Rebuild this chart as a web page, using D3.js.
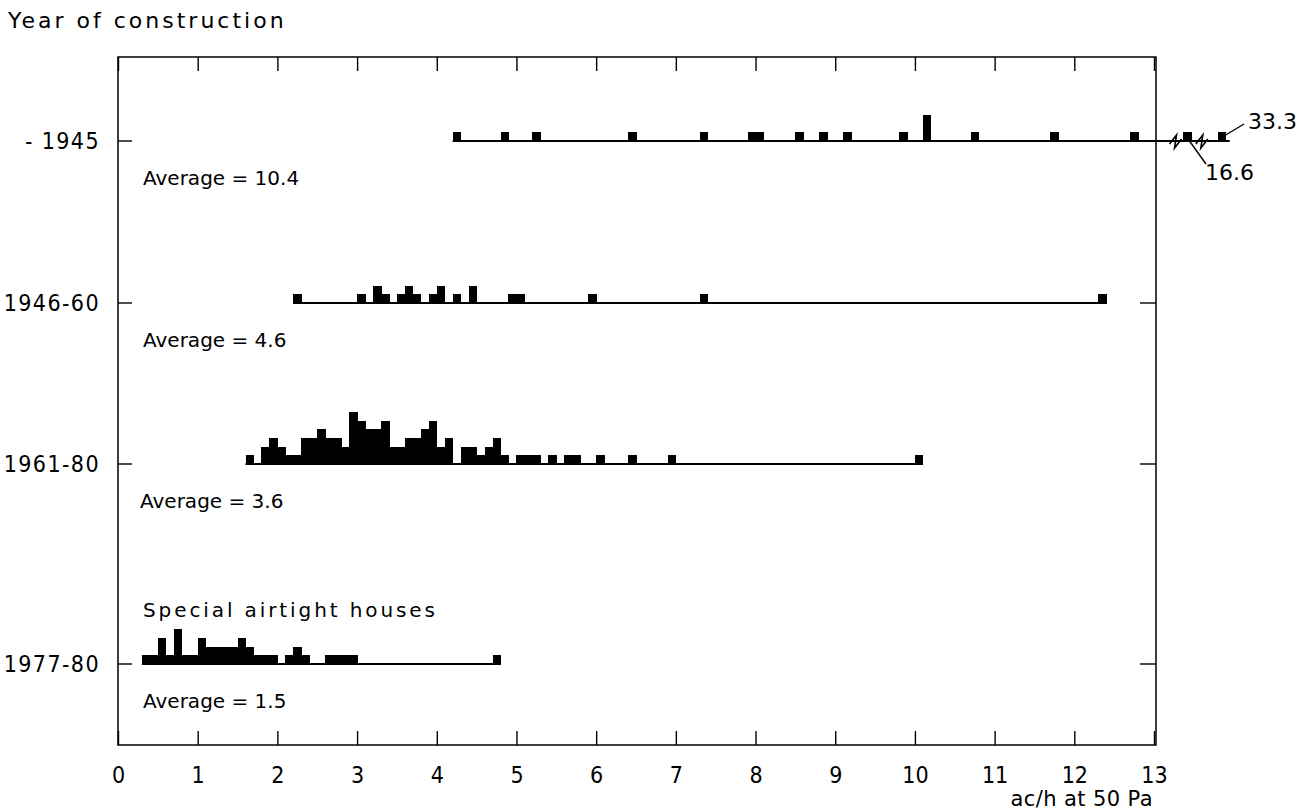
<!DOCTYPE html>
<meta charset="utf-8">
<style>
body { margin: 0; background: #fff; }
text { font-family: "DejaVu Sans", sans-serif; fill: #000; }
.lbl { font-size: 20px; }
.num { font-family: "DejaVu Sans Condensed", "DejaVu Sans", sans-serif; font-size: 23px; }
.base { stroke: #000; stroke-width: 2px; fill: none; }
.bar { fill: #000; shape-rendering: crispEdges; }
.frame { fill: none; stroke: #000; stroke-width: 1.5px; }
.axis line { stroke: #000; stroke-width: 1.4px; }
.axis path { display: none; }
</style>
<script src="https://d3js.org/d3.v7.min.js"></script>
<body>
<div id="chart"></div>
</body>
<script>

// year-of-construction groups and their averages (ac/h at 50 Pa)
var groups = ["-1945", "1946-60", "1961-80", "1977-80"];
var averages = [10.4, 4.6, 3.6, 1.5];

// histograms: [bin start (ac/h), number of houses], bins 0.1 wide
var hist1945 = [[4.2,1],[4.8,1],[5.2,1],[6.4,1],[7.3,1],[7.9,1],[8.0,1],[8.5,1],[8.8,1],
                [9.1,1],[9.8,1],[10.1,3],[10.7,1],[11.7,1],[12.7,1]];
var hist1946 = [[2.2,1],[3.0,1],[3.2,2],[3.3,1],[3.5,1],[3.6,2],[3.7,1],[3.9,1],[4.0,2],
                [4.2,1],[4.4,2],[4.9,1],[5.0,1],[5.9,1],[7.3,1],[12.3,1]];
var hist1961 = [[1.6,1],[1.8,2],[1.9,3],[2.0,2],[2.1,1],[2.2,1],[2.3,3],[2.4,3],[2.5,4],
                [2.6,3],[2.7,3],[2.8,2],[2.9,6],[3.0,5],[3.1,4],[3.2,4],[3.3,5],[3.4,2],
                [3.5,2],[3.6,3],[3.7,3],[3.8,4],[3.9,5],[4.0,2],[4.1,3],[4.3,2],[4.4,2],
                [4.5,1],[4.6,2],[4.7,3],[4.8,1],[5.0,1],[5.1,1],[5.2,1],[5.4,1],[5.6,1],
                [5.7,1],[6.0,1],[6.4,1],[6.9,1],[10.0,1]];
var hist1977 = [[0.3,1],[0.4,1],[0.5,3],[0.6,1],[0.7,4],[0.8,1],[0.9,1],[1.0,3],[1.1,2],
                [1.2,2],[1.3,2],[1.4,2],[1.5,3],[1.6,2],[1.7,1],[1.8,1],[1.9,1],[2.1,1],
                [2.2,2],[2.3,1],[2.6,1],[2.7,1],[2.8,1],[2.9,1],[4.7,1]];
var hists = [hist1945, hist1946, hist1961, hist1977];

// off-scale houses in the oldest group (shown beyond the axis break)
var outliers = [16.6, 33.3];

var xTicks = d3.range(0, 14);

var W = 1307, H = 810;
var frame = {left: 118, right: 1156, top: 57, bottom: 745};

var x = d3.scaleLinear().domain([0, 13]).range([118, 1154]);
var row = d3.scaleOrdinal().domain(groups).range([141, 303, 464, 664]);
var h = d3.scaleLinear().domain([0, 1]).range([0, 8.7]);
// broken part of the axis to the right of 13
var brk = d3.scalePoint().domain(outliers).range([13.37, 13.8]);
var binW = 0.1;

var svg = d3.select("#chart").append("svg")
    .attr("width", W)
    .attr("height", H);

svg.append("rect").attr("width", W).attr("height", H).attr("fill", "#fff");

// frame
svg.append("rect")
    .attr("class", "frame")
    .attr("x", frame.left).attr("y", frame.top)
    .attr("width", frame.right - frame.left)
    .attr("height", frame.bottom - frame.top);

// bottom axis, ticks pointing in
svg.append("g")
    .attr("class", "axis")
    .attr("transform", "translate(0," + frame.bottom + ")")
    .call(d3.axisBottom(x).tickValues(xTicks).tickSize(-14).tickPadding(22))
    .selectAll("text").attr("class", "num").attr("font-size", null).attr("font-family", null);

// top axis, ticks only
svg.append("g")
    .attr("class", "axis")
    .attr("transform", "translate(0," + frame.top + ")")
    .call(d3.axisTop(x).tickValues(xTicks).tickSize(-14).tickFormat(""));

svg.append("text")
    .attr("class", "lbl")
    .attr("x", 1153).attr("y", 806)
    .attr("text-anchor", "end")
    .style("font-size", "21px")
    .style("letter-spacing", "0.4px")
    .text("ac/h at 50 Pa");

svg.append("text")
    .attr("class", "lbl")
    .attr("x", 8).attr("y", 28)
    .style("font-size", "22px")
    .style("letter-spacing", "3px")
    .text("Year of construction");

// row ticks on both sides and row labels
var rows = svg.append("g");
rows.selectAll(".lt").data(groups).enter().append("line")
    .attr("x1", frame.left).attr("x2", frame.left + 14)
    .attr("y1", row).attr("y2", row)
    .attr("stroke", "#000").attr("stroke-width", 1.4);
rows.selectAll(".rt").data(groups).enter().append("line")
    .attr("x1", frame.right - 16).attr("x2", frame.right)
    .attr("y1", row).attr("y2", row)
    .attr("stroke", "#000").attr("stroke-width", 1.4);
rows.selectAll(".rl").data(groups).enter().append("text")
    .attr("class", "num")
    .attr("x", 100)
    .attr("y", function(d) { return row(d) + 8; })
    .attr("text-anchor", "end")
    .style("letter-spacing", "1.4px")
    .text(function(d) { return d.replace("-1945", "- 1945"); });

// average labels
svg.selectAll(".avg").data(groups).enter().append("text")
    .attr("class", "lbl")
    .attr("x", function(d, i) { return i == 2 ? 140 : 143; })
    .attr("y", function(d) { return row(d) + 44; })
    .text(function(d, i) { return "Average = " + averages[i]; });

svg.append("text")
    .attr("class", "lbl")
    .attr("x", 143)
    .attr("y", row("1977-80") - 47)
    .style("letter-spacing", "2.9px")
    .text("Special airtight houses");

// histograms
groups.forEach(function(g, i) {
  var data = hists[i];
  var y0 = row(g);
  var lo = d3.min(data, function(d) { return d[0]; });
  var hi = d3.max(data, function(d) { return d[0]; }) + binW;
  if (i == 0) hi = brk(outliers[1]) + binW + 0.05;

  svg.append("line")
      .attr("class", "base")
      .attr("x1", x(lo)).attr("x2", x(hi))
      .attr("y1", y0).attr("y2", y0);

  svg.selectAll(".bar" + i).data(data).enter().append("rect")
      .attr("class", "bar")
      .attr("x", function(d) { return x(d[0]); })
      .attr("width", x(binW) - x(0) + 0.6)
      .attr("y", function(d) { return y0 - h(d[1]); })
      .attr("height", function(d) { return h(d[1]) + 1; });
});

// outliers beyond the break
var y45 = row("-1945");
svg.selectAll(".out").data(outliers).enter().append("rect")
    .attr("class", "bar")
    .attr("x", function(d) { return x(brk(d)); })
    .attr("width", x(binW) - x(0) + 0.6)
    .attr("y", y45 - h(1))
    .attr("height", h(1) + 1);

// axis break marks
[13.27, 13.6].forEach(function(b) {
  var bx = x(b);
  svg.append("path")
      .attr("d", "M" + (bx - 6) + "," + (y45 + 3) + "L" + (bx + 1) + "," + (y45 - 6) +
                 "L" + (bx - 1) + "," + (y45 + 7) + "L" + (bx + 6) + "," + (y45 - 2))
      .attr("fill", "none").attr("stroke", "#000").attr("stroke-width", 1.6);
});

// outlier value labels with leaders
var outLbl = [{v: 33.3, tx: 1248, ty: 129, lx: 1244, ly: 124},
              {v: 16.6, tx: 1205, ty: 180, lx: 1206, ly: 164}];
outLbl.forEach(function(o) {
  var bx = x(brk(o.v)) + (x(binW) - x(0)) / 2;
  svg.append("line")
      .attr("x1", o.lx).attr("y1", o.ly)
      .attr("x2", bx + (o.v > 20 ? 4 : 2)).attr("y2", y45 - (o.v > 20 ? 6 : 0))
      .attr("stroke", "#000").attr("stroke-width", 1.4);
  svg.append("text")
      .attr("class", "lbl")
      .attr("x", o.tx).attr("y", o.ty)
      .style("font-size", "22px")
      .text(o.v);
});

</script>
